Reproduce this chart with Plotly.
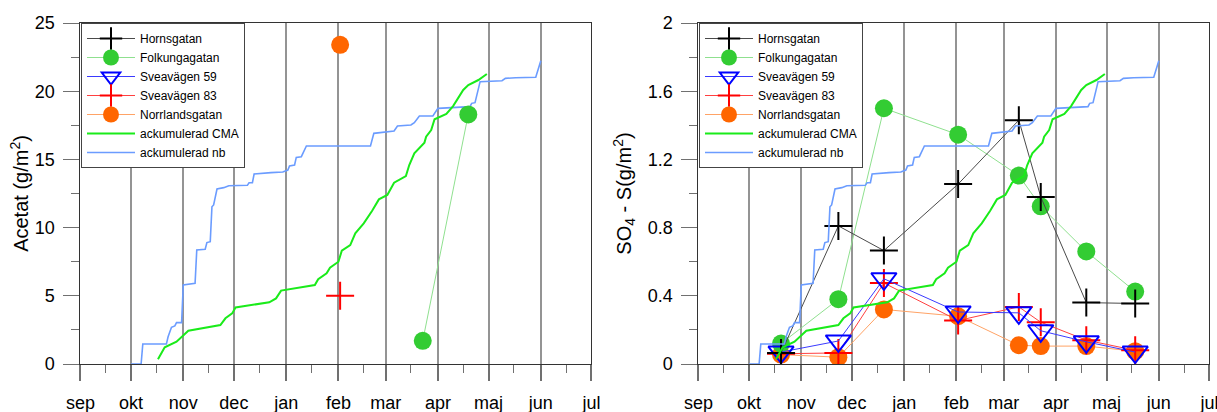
import plotly.graph_objects as go

# ---------------- data ----------------
MONTH_TICKS = ["2004-09-01", "2004-10-01", "2004-11-01", "2004-12-01", "2005-01-01",
               "2005-02-01", "2005-03-01", "2005-04-01", "2005-05-01", "2005-06-01",
               "2005-07-01"]
MONTH_LABELS = ["sep", "okt", "nov", "dec", "jan", "feb", "mar", "apr", "maj", "jun", "jul"]

# sampling dates for the SO4-S measurements (right panel)
SAMPLE_DATES = ["2004-10-20", "2004-11-23", "2004-12-20", "2005-02-02",
                "2005-03-10", "2005-03-23", "2005-04-19", "2005-05-18"]
SO4_HORNSGATAN = [0.065, 0.81, 0.665, 1.055, 1.43, 0.98, 0.36, 0.355]
SO4_FOLKUNGAGATAN = [0.12, 0.38, 1.50, 1.345, 1.105, 0.925, 0.66, 0.425]
SO4_SVEAVAGEN59 = [0.07, 0.135, 0.50, 0.305, 0.30, 0.195, 0.13, 0.07]
SO4_SVEAVAGEN83 = [0.06, 0.065, 0.475, 0.255, 0.335, 0.245, 0.14, 0.08]
SO4_NORRLANDSGATAN = [0.055, 0.04, 0.32, 0.28, 0.11, 0.105, 0.105, 0.075]

# acetate measurements (left panel)
ACETAT_FOLKUNGAGATAN_DATES = ["2005-03-23", "2005-04-19"]
ACETAT_FOLKUNGAGATAN = [1.7, 18.3]
ACETAT_SVEAVAGEN83_DATES = ["2005-02-02"]
ACETAT_SVEAVAGEN83 = [5.0]
ACETAT_NORRLANDSGATAN_DATES = ["2005-02-02"]
ACETAT_NORRLANDSGATAN = [23.4]

# accumulated CMA
CMA_DATES = ["2004-10-17", "2004-10-21", "2004-10-28", "2004-10-31", "2004-11-04",
             "2004-11-23", "2004-11-26", "2004-11-30", "2004-12-02", "2004-12-22",
             "2004-12-26", "2004-12-29", "2005-01-18", "2005-01-20", "2005-01-25",
             "2005-01-27", "2005-02-01", "2005-02-03", "2005-02-08", "2005-02-11",
             "2005-02-16", "2005-02-21", "2005-02-25", "2005-03-02", "2005-03-06",
             "2005-03-13", "2005-03-15", "2005-03-18", "2005-03-24", "2005-03-25",
             "2005-03-28", "2005-03-30", "2005-04-06", "2005-04-10", "2005-04-13",
             "2005-04-16", "2005-04-19", "2005-04-25", "2005-04-30"]
CMA_VALUES = [0.34, 1.22, 1.64, 2.00, 2.44,
              2.86, 3.35, 3.71, 4.15, 4.52,
              4.81, 5.38, 5.79, 6.21, 6.65,
              7.06, 7.50, 8.31, 8.72, 9.58,
              10.31, 11.24, 12.07, 12.39, 13.29,
              13.78, 14.59, 15.44, 16.23, 16.67,
              17.15, 17.94, 18.33, 18.91, 19.48,
              20.09, 20.45, 20.82, 21.26]

# accumulated nb
NB_DATES = ["2004-10-01", "2004-10-07", "2004-10-08", "2004-10-22", "2004-10-23",
            "2004-10-25", "2004-10-27", "2004-10-28", "2004-10-31", "2004-11-01",
            "2004-11-08", "2004-11-09", "2004-11-14", "2004-11-15", "2004-11-17",
            "2004-11-18", "2004-11-19", "2004-11-21", "2004-11-25", "2004-11-28",
            "2004-12-09", "2004-12-10", "2004-12-12", "2004-12-13", "2004-12-23",
            "2004-12-30", "2005-01-02", "2005-01-03", "2005-01-06", "2005-01-07",
            "2005-01-10", "2005-01-13", "2005-02-20", "2005-02-22", "2005-03-06",
            "2005-03-08", "2005-03-16", "2005-03-18", "2005-03-21", "2005-03-29",
            "2005-04-01", "2005-04-20", "2005-04-21", "2005-04-23", "2005-04-26",
            "2005-05-09", "2005-05-11", "2005-05-17", "2005-05-29", "2005-06-01"]
NB_VALUES = [0.0, 0.0, 1.47, 1.47, 2.00,
             2.69, 2.79, 3.03, 3.03, 5.79,
             5.91, 8.36, 8.41, 8.90, 8.97,
             11.53, 11.66, 12.83, 12.93, 13.07,
             13.10, 13.29, 13.29, 13.93, 14.03,
             14.08, 14.22, 14.52, 14.59, 15.15,
             15.20, 15.98, 15.98, 16.91, 17.08,
             17.45, 17.52, 17.69, 18.18, 18.18,
             18.74, 18.87, 19.11, 19.16, 20.70,
             20.77, 20.94, 20.99, 21.02, 22.24]

# ---------------- styling ----------------
OFF = 0                      # body margin is removed by the post script below
FW, FH = 1217, 412
FONT = "Liberation Sans, Arial, sans-serif"
GRID = "#949494"
TICKC = "#707070"


def fx(px):
    return (px - OFF) / FW


def fy(py):
    return 1 - (py - OFF) / FH


STYLE = {
    "Hornsgatan": dict(line=dict(color="#4a4a4a", width=1),
                       marker=dict(symbol="cross-thin", size=20, color="black",
                                   line=dict(color="black", width=2)), rank=1),
    "Folkungagatan": dict(line=dict(color="#8fe08f", width=1),
                          marker=dict(symbol="circle", size=18, color="#33cc33",
                                      line=dict(width=0)), rank=2),
    "Sveavägen 59": dict(line=dict(color="#3a3aff", width=1),
                         marker=dict(symbol="triangle-down-open", size=22, color="#0000ff",
                                     line=dict(color="#0000ff", width=2)), rank=3),
    "Sveavägen 83": dict(line=dict(color="#ff4040", width=1),
                         marker=dict(symbol="cross-thin", size=20, color="#ff0000",
                                     line=dict(color="#ff0000", width=2)), rank=4),
    "Norrlandsgatan": dict(line=dict(color="#ffa366", width=1),
                           marker=dict(symbol="circle", size=18, color="#ff6600",
                                       line=dict(width=0)), rank=5),
}

fig = go.Figure()


def add_station(name, x, y, xa, ya, legend):
    s = STYLE[name]
    fig.add_trace(go.Scatter(x=x, y=y, name=name, mode="lines+markers",
                             line=s["line"], marker=s["marker"], xaxis=xa, yaxis=ya,
                             legend=legend, legendrank=s["rank"]))


def add_curves(xa, ya, legend):
    fig.add_trace(go.Scatter(x=NB_DATES, y=NB_VALUES, name="ackumulerad nb", mode="lines",
                             line=dict(color="#6b9cff", width=1.6), xaxis=xa, yaxis=ya,
                             legend=legend, legendrank=7))
    fig.add_trace(go.Scatter(x=CMA_DATES, y=CMA_VALUES, name="ackumulerad CMA", mode="lines",
                             line=dict(color="#1aeb1a", width=2), xaxis=xa, yaxis=ya,
                             legend=legend, legendrank=6))


# left panel
add_curves("x", "y", "legend")
add_station("Norrlandsgatan", ACETAT_NORRLANDSGATAN_DATES, ACETAT_NORRLANDSGATAN, "x", "y", "legend")
add_station("Folkungagatan", ACETAT_FOLKUNGAGATAN_DATES, ACETAT_FOLKUNGAGATAN, "x", "y", "legend")
add_station("Sveavägen 83", ACETAT_SVEAVAGEN83_DATES, ACETAT_SVEAVAGEN83, "x", "y", "legend")
add_station("Sveavägen 59", [None], [None], "x", "y", "legend")
add_station("Hornsgatan", [None], [None], "x", "y", "legend")

# right panel (accumulated curves on a hidden overlay axis 0-25)
add_curves("x2", "y3", "legend2")
add_station("Norrlandsgatan", SAMPLE_DATES, SO4_NORRLANDSGATAN, "x2", "y2", "legend2")
add_station("Folkungagatan", SAMPLE_DATES, SO4_FOLKUNGAGATAN, "x2", "y2", "legend2")
add_station("Sveavägen 83", SAMPLE_DATES, SO4_SVEAVAGEN83, "x2", "y2", "legend2")
add_station("Sveavägen 59", SAMPLE_DATES, SO4_SVEAVAGEN59, "x2", "y2", "legend2")
add_station("Hornsgatan", SAMPLE_DATES, SO4_HORNSGATAN, "x2", "y2", "legend2")

ydom = [fy(364), fy(23)]


def xaxis(domain):
    return dict(domain=domain, type="date", range=[MONTH_TICKS[0], MONTH_TICKS[-1]],
                tickmode="array", tickvals=MONTH_TICKS, ticktext=MONTH_LABELS,
                ticks="outside", ticklen=16, tickwidth=1.5, tickcolor=TICKC,
                showgrid=True, gridcolor=GRID, gridwidth=1.5,
                showline=True, linecolor="#333333", linewidth=1, mirror=True,
                zeroline=False, automargin=False, ticklabeloverflow="allow",
                tickfont=dict(size=18, color="black", family=FONT),
                ticklabelstandoff=6,
                minor=dict(ticks="outside", ticklen=8, tickwidth=1, tickcolor=TICKC,
                           tick0="2004-09-16", dtick="M1", showgrid=False))


def yaxis(rng, dtick, minor, title, standoff, anchor):
    return dict(domain=ydom, range=rng, tickmode="linear", tick0=0, dtick=dtick,
                ticks="outside", ticklen=16, tickwidth=1, tickcolor=TICKC,
                showgrid=False, showline=True, linecolor="#333333", linewidth=1, mirror=True,
                zeroline=False, anchor=anchor, automargin=False,
                tickfont=dict(size=18, color="black", family=FONT), ticklabelstandoff=5,
                minor=dict(ticks="outside", ticklen=8, tickwidth=1, tickcolor=TICKC,
                           dtick=minor, showgrid=False),
                title=dict(text=title, font=dict(size=20, color="black", family=FONT),
                           standoff=standoff))


legend_common = dict(bgcolor="white", bordercolor="#444444", borderwidth=1,
                     font=dict(size=12, color="black", family=FONT),
                     itemsizing="trace", itemwidth=48, tracegroupgap=0,
                     xanchor="left", yanchor="top", traceorder="normal")

fig.update_layout(
    width=FW, height=FH, margin=dict(l=0, r=0, t=0, b=0, pad=0, autoexpand=False),
    paper_bgcolor="white", plot_bgcolor="white",
    font=dict(family=FONT, color="black"),
    xaxis=xaxis([fx(80.4), fx(591.4)]),
    xaxis2=xaxis([fx(698.4), fx(1209.4)]),
    yaxis=yaxis([0, 25], 5, 2.5, "Acetat (g/m<sup>2</sup>)", 0, "x"),
    yaxis2=yaxis([0, 2], 0.4, 0.2, "SO<sub>4</sub> - S(g/m<sup>2</sup>)", 10, "x2"),
    yaxis3=dict(domain=ydom, range=[0, 25], overlaying="y2", anchor="x2", visible=False,
                automargin=False),
    legend=dict(**legend_common, x=fx(81), y=fy(23)),
    legend2=dict(**legend_common, x=fx(699), y=fy(23)),
    showlegend=True,
)

fig.write_html(
    "out.html",
    config={"displayModeBar": False},
    post_script="document.body.style.margin='0';"
                "document.documentElement.style.overflow='hidden';"
                "document.body.style.overflow='hidden';",
)
